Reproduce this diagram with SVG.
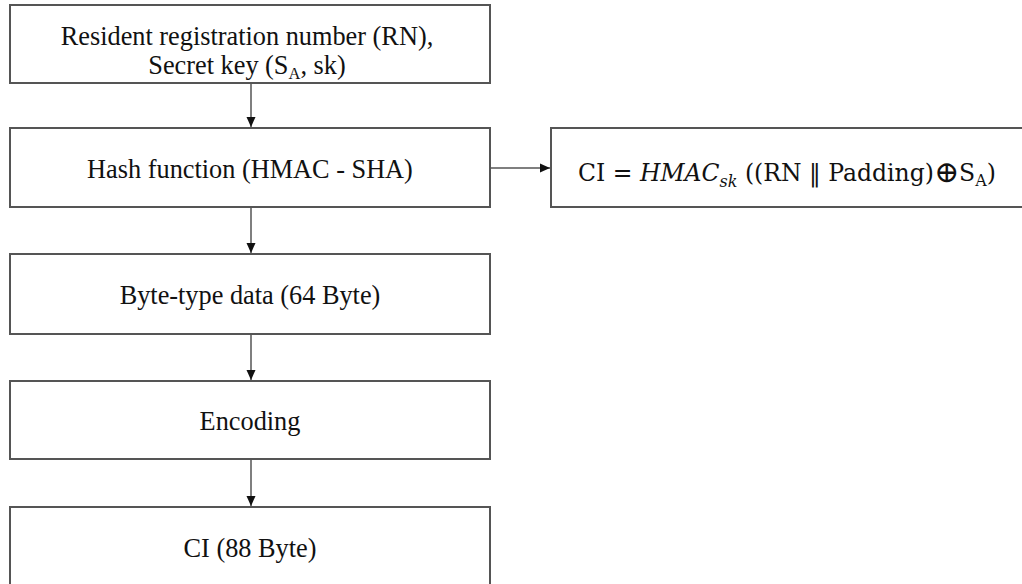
<svg xmlns="http://www.w3.org/2000/svg" width="1022" height="584" viewBox="0 0 1022 584">
<defs>
<style>
.box{fill:#fff;stroke:#555;stroke-width:2}
.t{font-family:"Liberation Serif","Times New Roman",serif;font-size:26.3px;fill:#111;text-anchor:middle}
.m{font-family:"DejaVu Serif","Liberation Serif",serif;font-size:23.5px;fill:#111;text-anchor:middle}
.ln{stroke:#555;stroke-width:1.5;fill:none}
</style>
<marker id="ah" markerWidth="12" markerHeight="12" refX="10" refY="6" orient="auto" markerUnits="userSpaceOnUse">
<path d="M0,1.5 L10,6 L0,10.5 Z" fill="#111"/>
</marker>
</defs>
<rect width="1022" height="584" fill="#fff"/>
<g id="n1">
<rect class="box" x="10" y="5" width="480" height="78"/>
<text class="t" x="247" y="45" font-size="25">Resident registration number (RN),<tspan x="247" dy="28.5">Secret key (S</tspan><tspan font-size="16.5" dy="5">A</tspan><tspan dy="-5">, sk)</tspan></text>
</g>
<g id="n2">
<rect class="box" x="10" y="128" width="480" height="79"/>
<text class="t" x="250" y="178">Hash function (HMAC - SHA)</text>
</g>
<g id="n3">
<rect class="box" x="10" y="254" width="480" height="80"/>
<text class="t" x="250" y="304">Byte-type data (64 Byte)</text>
</g>
<g id="n4">
<rect class="box" x="10" y="381" width="480" height="78"/>
<text class="t" x="250" y="430">Encoding</text>
</g>
<g id="n5">
<rect class="box" x="10" y="507" width="480" height="90"/>
<text class="t" x="250" y="557">CI (88 Byte)</text>
</g>
<g id="n6">
<rect class="box" x="551" y="128" width="480" height="79"/>
<text class="m" x="787" y="181">CI = <tspan font-style="italic">HMAC</tspan><tspan font-style="italic" font-size="16" dy="6">sk</tspan><tspan dy="-6"> ((RN ‖ Padding)</tspan><tspan font-size="30" dy="1">⊕</tspan><tspan dy="-1">S</tspan><tspan font-size="16" dy="5">A</tspan><tspan dy="-5">)</tspan></text>
</g>
<g id="connectors">
<line class="ln" x1="251" y1="83" x2="251" y2="127" marker-end="url(#ah)"/>
<line class="ln" x1="251" y1="207" x2="251" y2="253" marker-end="url(#ah)"/>
<line class="ln" x1="251" y1="334" x2="251" y2="380" marker-end="url(#ah)"/>
<line class="ln" x1="251" y1="459" x2="251" y2="506" marker-end="url(#ah)"/>
<line class="ln" x1="490" y1="168" x2="550" y2="168" marker-end="url(#ah)"/>
</g>
</svg>
